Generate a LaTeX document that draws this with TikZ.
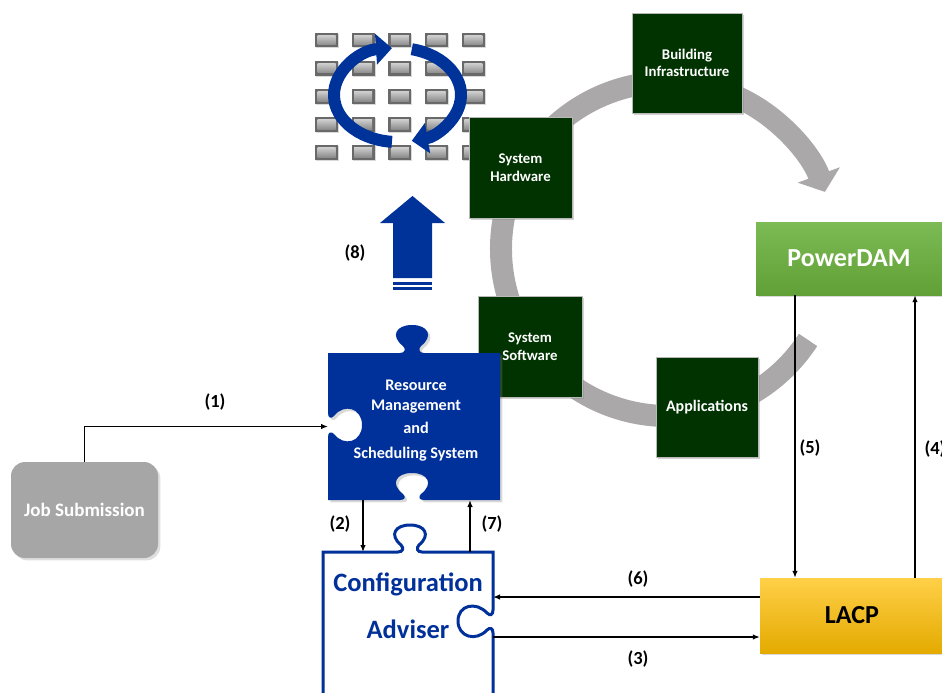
\documentclass[tikz,border=0pt]{standalone}
\usepackage{fontspec}
\setmainfont{Carlito}
\usetikzlibrary{arrows.meta,shadows,calc}

\definecolor{puzblue}{RGB}{0,48,153}
\definecolor{arcblue}{RGB}{0,51,153}
\definecolor{darkgreen}{RGB}{0,51,0}
\definecolor{ringgray}{RGB}{170,168,168}
\definecolor{jsgray}{RGB}{166,166,166}
\definecolor{pdtop}{RGB}{124,187,84}
\definecolor{pdbot}{RGB}{96,160,54}
\definecolor{lacptop}{RGB}{255,208,72}
\definecolor{lacpmid}{RGB}{255,192,0}
\definecolor{lacpbot}{RGB}{228,170,0}
\definecolor{btnedge}{RGB}{105,105,105}
\definecolor{btntop}{RGB}{205,205,205}
\definecolor{btnbot}{RGB}{140,140,140}

\begin{document}
\begin{tikzpicture}[x=1pt,y=-1pt,
  greenbox/.style={fill=darkgreen, draw=gray!55, line width=0.8pt, text=white,
    align=center, inner sep=0pt, font=\bfseries\fontsize{14.8}{17.5}\selectfont,
    drop shadow={opacity=0.35}},
  flow/.style={line width=1.3pt, -{Latex[length=7pt,width=5.5pt]}},
  lbl/.style={font=\bfseries\fontsize{18.5}{20}\selectfont, inner sep=0pt},
  bigtext/.style={font=\bfseries\fontsize{26}{30}\selectfont},
  hidden/.style={inner sep=0pt, outer sep=0pt},
]
\useasboundingbox (0,0) rectangle (942,693);

% grid of server buttons
\foreach \i in {0,...,4}
  \foreach \j in {0,...,4} {
    \fill[btnedge, drop shadow={opacity=0.3, shadow xshift=1pt, shadow yshift=-1pt}]
      ({315+36.7*\i},{33+28*\j}) rectangle +(23,14.5);
    \path[top color=btntop, bottom color=btnbot]
      ({317.5+36.7*\i},{35.5+28*\j}) rectangle +(18,9.5);
  }

% circular blue arrows over the grid
\draw[arcblue, line width=12pt, -{Triangle[width=30pt,length=16pt]}]
  (397.5,95) ++(95:63.5 and 47) arc[start angle=95, end angle=265, x radius=63.5, y radius=47];
\draw[arcblue, line width=12pt, -{Triangle[width=30pt,length=16pt]}]
  (397.5,95) ++(-77:63.5 and 47) arc[start angle=-77, end angle=77, x radius=63.5, y radius=47];

% big upward arrow (8)
\fill[arcblue] (393,278) -- (393,223) -- (380,223) -- (412.5,196) -- (445,223)
  -- (432,223) -- (432,278) -- cycle;
\fill[arcblue] (393,281.5) rectangle (432,284.5);
\fill[arcblue] (393,287) rectangle (432,290);
\node[lbl] (l8) at (355,253) {(8)};

% grey cycle ring
\draw[ringgray, line width=22pt, -{Triangle[width=44pt,length=18pt]}]
  (668,249) ++(33:167) arc[start angle=33, end angle=340, radius=167];

% the four stages on the ring
\node[greenbox, minimum width=110pt, minimum height=100pt] (bi) at (687,63)
  {Building\\Infrastructure};
\node[greenbox, minimum width=103pt, minimum height=101pt] (sh) at (520.5,167.5)
  {System\\Hardware};
\node[greenbox, minimum width=104pt, minimum height=101pt] (ss) at (530,346.5)
  {System\\Software};
\node[greenbox, minimum width=102pt, minimum height=100pt,
  font=\bfseries\fontsize{16}{18}\selectfont] (ap) at (707,407) {Applications};

% resource management puzzle piece
\fill[puzblue, drop shadow={opacity=0.3}]
  (328,353) -- (400,353)
  .. controls (405,353) and (406,349) .. (403,346)
  .. controls (390,336) and (396,325) .. (412,325)
  .. controls (428,325) and (434,336) .. (421,346)
  .. controls (418,349) and (419,353) .. (424,353)
  -- (500,353) -- (500,500) -- (424,500)
  .. controls (419,500) and (418,497) .. (421,494)
  .. controls (434,484) and (428,473) .. (412,473)
  .. controls (396,473) and (390,484) .. (403,494)
  .. controls (406,497) and (405,500) .. (400,500)
  -- (328,500) -- (328,437)
  .. controls (328,432) and (331,431) .. (334,434)
  .. controls (344,447) and (362,442) .. (362,425)
  .. controls (362,408) and (344,403) .. (334,416)
  .. controls (331,419) and (328,418) .. (328,413)
  -- cycle;
\node[hidden, minimum width=172pt, minimum height=147pt] (rms) at (414,426.5) {};
\node[text=white, align=center, font=\bfseries\fontsize{16.2}{20}\selectfont]
  (rmstext) at (416,421) {Resource\\Management\\[3pt]and\\[5pt]Scheduling System};

% configuration adviser puzzle piece
\filldraw[fill=white, draw=puzblue, line width=3pt]
  (323,705) -- (323,552) -- (398,552)
  .. controls (403,552) and (404,548) .. (401,545)
  .. controls (389,535) and (395,525) .. (410,525)
  .. controls (425,525) and (431,535) .. (419,545)
  .. controls (416,548) and (417,552) .. (422,552)
  -- (493,552) -- (493,610)
  .. controls (493,615) and (490,616) .. (487,613)
  .. controls (476,601) and (458,605) .. (458,621)
  .. controls (458,637) and (476,642) .. (487,630)
  .. controls (490,627) and (493,628) .. (493,633)
  -- (493,705);
\node[hidden, minimum width=170pt, minimum height=170pt] (ca) at (408,637) {};
\node[text=puzblue, align=center, font=\bfseries\fontsize{26.5}{47}\selectfont]
  (catext) at (408,606) {Configuration\\Adviser};

% job submission
\node[rounded corners=14pt, fill=jsgray, minimum width=147pt, minimum height=96pt,
  text=white, font=\bfseries\fontsize{19}{22}\selectfont, drop shadow={opacity=0.25}]
  (js) at (84.5,510) {Job Submission};

% PowerDAM and LACP
\node[top color=pdtop, bottom color=pdbot, minimum width=186pt, minimum height=73pt,
  text=white, bigtext, drop shadow={opacity=0.3}] (pd) at (849,258.5) {PowerDAM};
\node[top color=lacptop, middle color=lacpmid, bottom color=lacpbot,
  minimum width=184pt, minimum height=75pt, bigtext, drop shadow={opacity=0.3}]
  (lacp) at (852,615.5) {LACP};

% connector columns and rows
\coordinate (c2) at (363,0);
\coordinate (c7) at (470,0);
\coordinate (c5) at (795,0);
\coordinate (c4) at (915,0);
\coordinate (c6) at (0,597);
\coordinate (c3) at (0,637);

\draw[flow] (js.north) |- (rms.west);
\draw[flow] (rms.south -| c2) -- (ca.north -| c2);
\draw[flow] (ca.north -| c7) -- (rms.south -| c7);
\draw[flow] (pd.south -| c5) -- (lacp.north -| c5);
\draw[flow] (lacp.north -| c4) -- (pd.south -| c4);
\draw[flow] (lacp.west |- c6) -- (ca.east |- c6);
\draw[flow] (ca.east |- c3) -- (lacp.west |- c3);

\node[lbl] (l1) at (215,402) {(1)};
\node[lbl] (l2) at (340,524) {(2)};
\node[lbl] (l7) at (492,524) {(7)};
\node[lbl] (l5) at (810,448) {(5)};
\node[lbl] (l4) at (935,449) {(4)};
\node[lbl] (l6) at (638,579) {(6)};
\node[lbl] (l3) at (638,659) {(3)};
\end{tikzpicture}
\end{document}
